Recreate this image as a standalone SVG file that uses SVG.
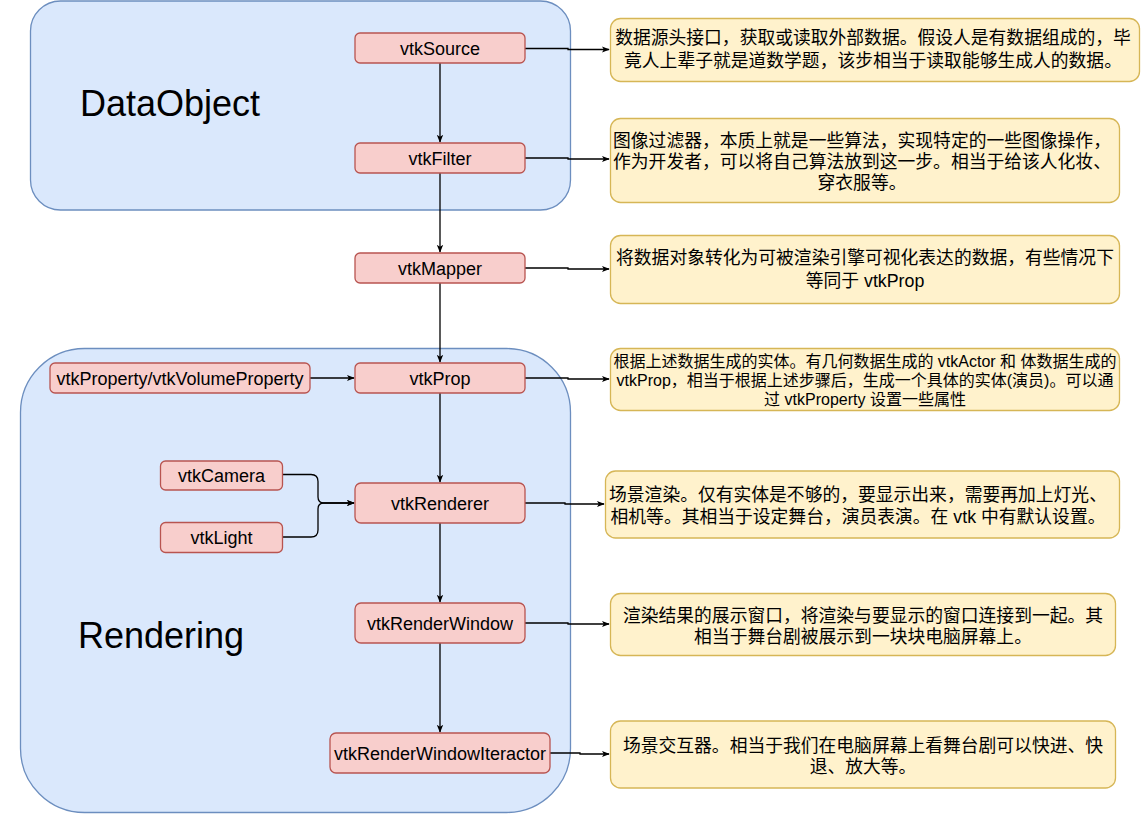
<svg xmlns="http://www.w3.org/2000/svg" width="1141" height="814" viewBox="0 0 1141 814">
<style>
.cont{fill:#dae8fc;stroke:#6c8ebf;stroke-width:1.3}
.node rect{fill:#f8cecc;stroke:#b85450;stroke-width:1.3}
.note rect{fill:#fff2cc;stroke:#d6b656;stroke-width:1.3}
text{font-family:"Liberation Sans","Noto Sans CJK SC",sans-serif;fill:#000}
.nt{font-size:18px;text-anchor:middle}
.tt{font-size:17.8px;text-anchor:middle}
.tt16{font-size:16px;text-anchor:middle}
.big{font-size:36px}
.edge{fill:none;stroke:#000;stroke-width:1.3;marker-end:url(#arr)}
</style>
<defs>
<marker id="arr" viewBox="0 0 10 10" refX="9" refY="5" markerWidth="8" markerHeight="8" markerUnits="userSpaceOnUse" orient="auto">
<path d="M0,1 L10,5 L0,9 L2.5,5 Z" fill="#000"/>
</marker>
</defs>
<rect id="dataobject" class="cont" x="30.5" y="1" width="540" height="209" rx="30"/>
<text class="big" x="80" y="116">DataObject</text>
<rect id="rendering" class="cont" x="20.5" y="348.5" width="550" height="464" rx="64"/>
<text class="big" x="78" y="648">Rendering</text>
<g id="connectors">
<path class="edge" d="M440 63 V142"/>
<path class="edge" d="M440 173 V252"/>
<path class="edge" d="M440 283 V362"/>
<path class="edge" d="M440 393 V482"/>
<path class="edge" d="M440 523 V602"/>
<path class="edge" d="M440 643 V732"/>
<path class="edge" d="M310 378 H354"/>
<path class="edge" d="M283 474.5 H311 Q318 474.5 318 481.5 V497 Q318 503 324 503 H354"/>
<path class="edge" d="M283 537 H311 Q318 537 318 530 V509 Q318 503 324 503 H354"/>
<path class="edge" d="M525 48.5 H568 V49.5 H609"/>
<path class="edge" d="M525 158 H568 V159 H609"/>
<path class="edge" d="M525 268 H568 V269 H609"/>
<path class="edge" d="M525 378 H568 V379 H609"/>
<path class="edge" d="M525 503 H565 V504 H604"/>
<path class="edge" d="M525 623 H568 V624 H609"/>
<path class="edge" d="M550 753 H580 V754 H609"/>
</g>
<g id="vtkSource" class="node"><rect x="355" y="33" width="170" height="30" rx="5"/><text class="nt" x="440" y="54.5">vtkSource</text></g>
<g id="vtkFilter" class="node"><rect x="355" y="143" width="170" height="30" rx="5"/><text class="nt" x="440" y="164.5">vtkFilter</text></g>
<g id="vtkMapper" class="node"><rect x="355" y="253" width="170" height="30" rx="5"/><text class="nt" x="440" y="274.5">vtkMapper</text></g>
<g id="vtkProp" class="node"><rect x="355" y="363" width="170" height="30" rx="5"/><text class="nt" x="440" y="384.5">vtkProp</text></g>
<g id="vtkProperty" class="node"><rect x="50" y="363" width="260" height="30" rx="5"/><text class="nt" x="180" y="384.5">vtkProperty/vtkVolumeProperty</text></g>
<g id="vtkCamera" class="node"><rect x="160.5" y="461" width="122" height="29" rx="5"/><text class="nt" x="221.5" y="482">vtkCamera</text></g>
<g id="vtkLight" class="node"><rect x="160.5" y="522.5" width="122" height="30" rx="5"/><text class="nt" x="221.5" y="544">vtkLight</text></g>
<g id="vtkRenderer" class="node"><rect x="355" y="483" width="170" height="40" rx="6"/><text class="nt" x="440" y="509.5">vtkRenderer</text></g>
<g id="vtkRenderWindow" class="node"><rect x="355" y="603" width="170" height="40" rx="6"/><text class="nt" x="440" y="629.5">vtkRenderWindow</text></g>
<g id="vtkRenderWindowIteractor" class="node"><rect x="330" y="733" width="220" height="40" rx="6"/><text class="nt" x="440" y="759.5">vtkRenderWindowIteractor</text></g>
<g id="note1" class="note"><rect x="610.5" y="18.5" width="529" height="63" rx="10"/>
<text class="tt" x="873" y="44">数据源头接口，获取或读取外部数据。假设人是有数据组成的，毕</text>
<text class="tt" x="873" y="67">竟人上辈子就是道数学题，该步相当于读取能够生成人的数据。</text></g>
<g id="note2" class="note"><rect x="610.5" y="118.5" width="509" height="84" rx="10"/>
<text class="tt" x="862" y="146.5">图像过滤器，本质上就是一些算法，实现特定的一些图像操作，</text>
<text class="tt" x="862" y="167.5">作为开发者，可以将自己算法放到这一步。相当于给该人化妆、</text>
<text class="tt" x="862" y="188.5">穿衣服等。</text></g>
<g id="note3" class="note"><rect x="610.5" y="235.5" width="509" height="68" rx="10"/>
<text class="tt" x="865" y="264">将数据对象转化为可被渲染引擎可视化表达的数据，有些情况下</text>
<text class="tt" x="865" y="287">等同于 vtkProp</text></g>
<g id="note4" class="note"><rect x="610.5" y="348.5" width="509" height="62" rx="10"/>
<text class="tt16" x="865" y="366.5">根据上述数据生成的实体。有几何数据生成的 vtkActor 和 体数据生成的</text>
<text class="tt16" x="865" y="385.5">vtkProp，相当于根据上述步骤后，生成一个具体的实体(演员)。可以通</text>
<text class="tt16" x="865" y="405">过 vtkProperty 设置一些属性</text></g>
<g id="note5" class="note"><rect x="605.5" y="471" width="514" height="67" rx="10"/>
<text class="tt" x="858" y="500.5">场景渲染。仅有实体是不够的，要显示出来，需要再加上灯光、</text>
<text class="tt" x="858" y="523">相机等。其相当于设定舞台，演员表演。在 vtk 中有默认设置。</text></g>
<g id="note6" class="note"><rect x="610.5" y="593.5" width="505" height="62" rx="10"/>
<text class="tt" x="863" y="621.5">渲染结果的展示窗口，将渲染与要显示的窗口连接到一起。其</text>
<text class="tt" x="863" y="643">相当于舞台剧被展示到一块块电脑屏幕上。</text></g>
<g id="note7" class="note"><rect x="610.5" y="721" width="505" height="67" rx="10"/>
<text class="tt" x="863" y="751.5">场景交互器。相当于我们在电脑屏幕上看舞台剧可以快进、快</text>
<text class="tt" x="863" y="773">退、放大等。</text></g>
</svg>
